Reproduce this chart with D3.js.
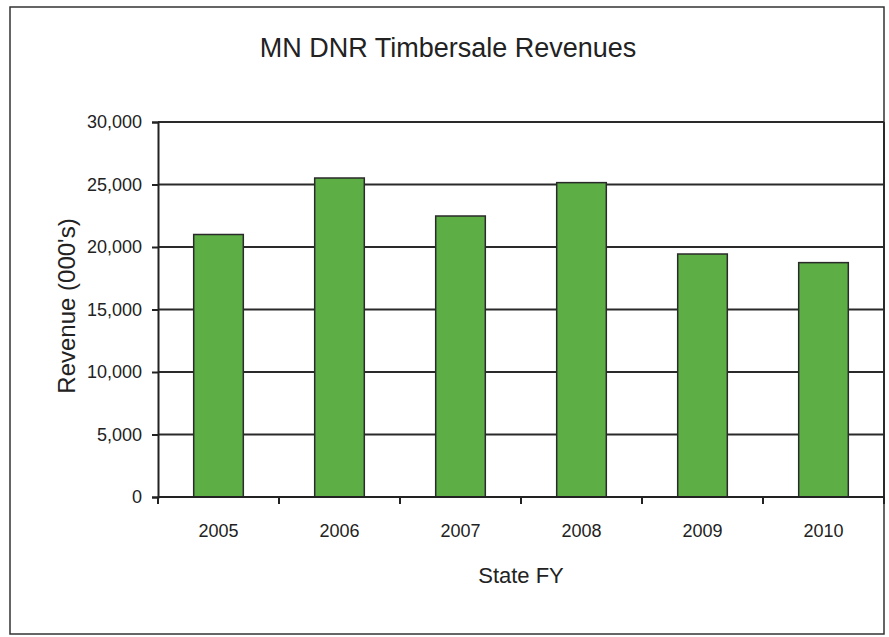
<!DOCTYPE html>
<html>
<head>
<meta charset="utf-8">
<script src="https://cdn.jsdelivr.net/npm/d3@7"></script>
<style>
  body { margin:0; background:#fff; }
  text { font-family:"Liberation Sans Narrow","Arial Narrow","Liberation Sans",Arial,sans-serif; fill:#222; }
</style>
</head>
<body>
<svg width="889" height="637"></svg>
<script>
var years = ["2005","2006","2007","2008","2009","2010"];
var revenue = [21000, 25520, 22480, 25150, 19440, 18750];
var yTicks = [0, 5000, 10000, 15000, 20000, 25000, 30000];

var svg = d3.select("svg");
var pLeft = 158, pRight = 884, pTop = 122, pBottom = 497;

// outer frame
svg.append("rect").attr("x",10).attr("y",7).attr("width",874).attr("height",627)
  .attr("fill","none").attr("stroke","#333").attr("stroke-width",1.5);

var x = d3.scaleBand().domain(years).range([pLeft,pRight]).paddingInner(0.59).paddingOuter(0.295);
var y = d3.scaleLinear().domain([0,30000]).range([pBottom,pTop]);

// gridlines
svg.append("g").selectAll("line").data(yTicks.slice(1)).enter().append("line")
  .attr("x1",pLeft).attr("x2",pRight)
  .attr("y1",function(d){ return y(d);}).attr("y2",function(d){ return y(d);})
  .attr("stroke","#2a2a2a").attr("stroke-width",2);
// right border of plot
svg.append("line").attr("x1",pRight).attr("x2",pRight).attr("y1",pTop).attr("y2",pBottom)
  .attr("stroke","#2a2a2a").attr("stroke-width",2);

// bars
svg.append("g").selectAll("rect").data(revenue).enter().append("rect")
  .attr("x",function(d,i){ return x(years[i]);})
  .attr("y",function(d){ return y(d);})
  .attr("width",x.bandwidth())
  .attr("height",function(d){ return y(0)-y(d);})
  .attr("fill","#5cae45").attr("stroke","#2a2a2a").attr("stroke-width",1.5);

// y axis
var yAxis = svg.append("g").attr("transform","translate("+pLeft+",0)")
  .call(d3.axisLeft(y).tickValues(yTicks).tickSize(6).tickPadding(10).tickFormat(d3.format(",")));
yAxis.select(".domain").attr("stroke","#222").attr("stroke-width",2);
yAxis.selectAll(".tick line").attr("stroke","#222").attr("stroke-width",2);
yAxis.selectAll("text").style("font-size","18px").attr("fill","#222");

// x axis: ticks at band boundaries, labels at centres
var xa = svg.append("g").attr("transform","translate(0,"+pBottom+")");
xa.append("line").attr("x1",pLeft).attr("x2",pRight).attr("stroke","#222").attr("stroke-width",2);
xa.selectAll(".xt").data(years.concat(["end"])).enter().append("line")
  .attr("x1",function(d,i){ return pLeft + i*x.step();})
  .attr("x2",function(d,i){ return pLeft + i*x.step();})
  .attr("y1",0).attr("y2",7).attr("stroke","#222").attr("stroke-width",2);
xa.selectAll("text").data(years).enter().append("text")
  .attr("x",function(d){ return x(d)+x.bandwidth()/2;})
  .attr("y",40).attr("text-anchor","middle").style("font-size","18px").text(function(d){ return d;});

// titles
svg.append("text").attr("x",448).attr("y",57).attr("text-anchor","middle")
  .style("font-size","27px").text("MN DNR Timbersale Revenues");
svg.append("text").attr("transform","translate(75,306) rotate(-90)").attr("text-anchor","middle")
  .style("font-size","24px").text("Revenue (000's)");
svg.append("text").attr("x",521).attr("y",583).attr("text-anchor","middle")
  .style("font-size","22px").text("State FY");
</script>
</body>
</html>
